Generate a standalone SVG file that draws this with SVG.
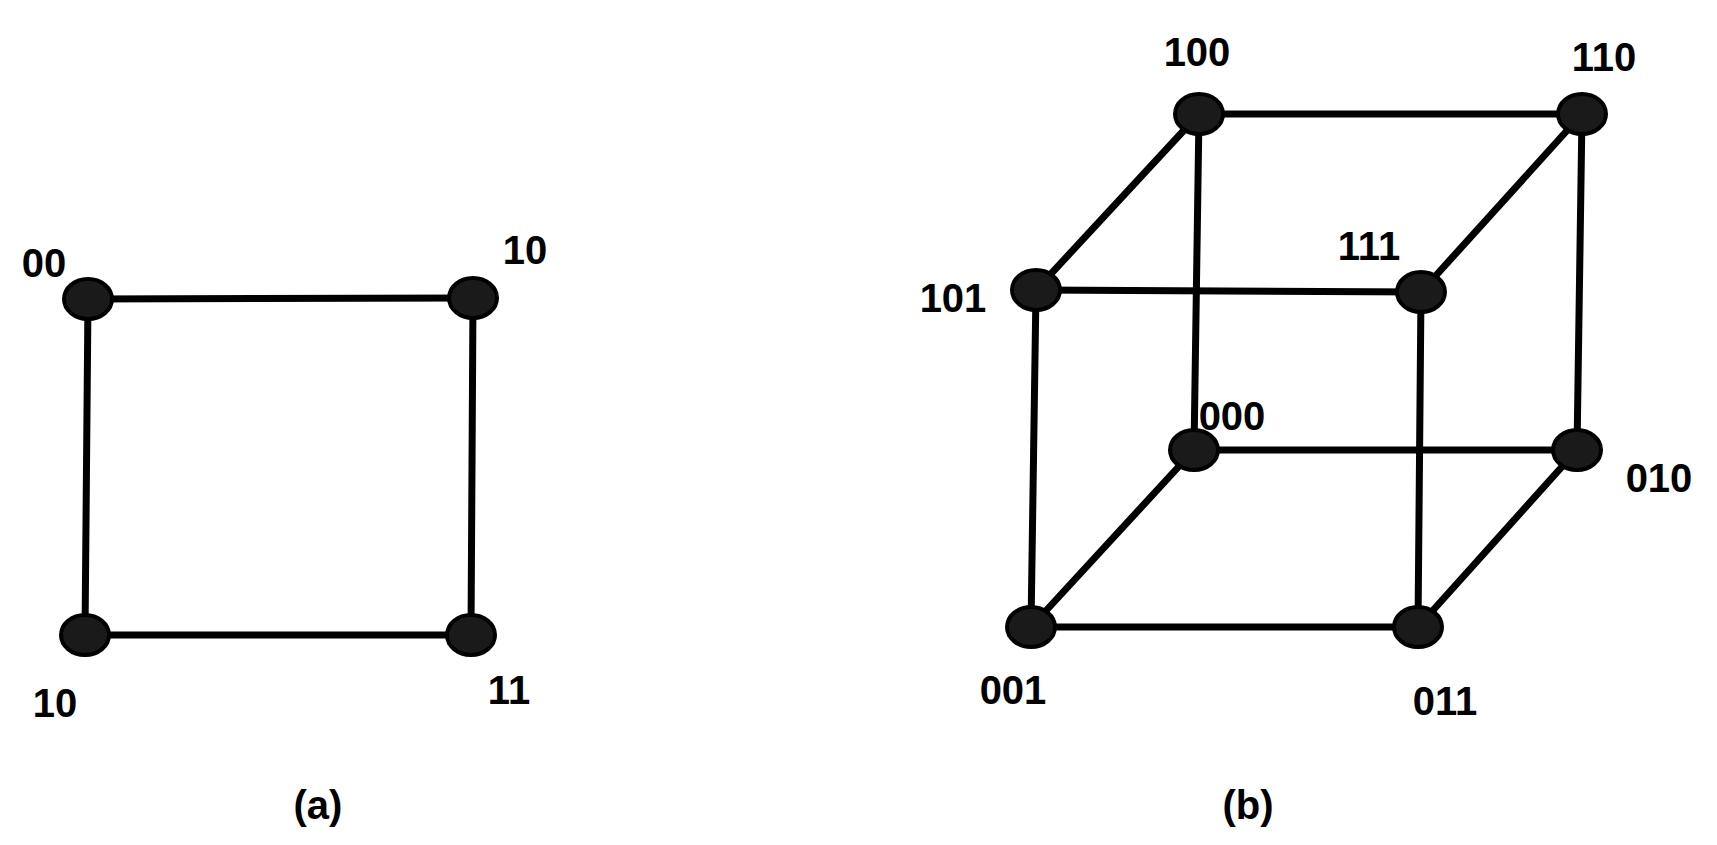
<svg xmlns="http://www.w3.org/2000/svg" width="1717" height="845" viewBox="0 0 1717 845">
<style>
.e{stroke:#000;stroke-width:7;fill:none;stroke-linecap:round}
.n{fill:#1a1a1a;stroke:#000;stroke-width:4}
text{font-family:"Liberation Sans",Arial,sans-serif;font-weight:bold;font-size:40px;fill:#000;text-anchor:middle;dominant-baseline:central}
</style>
<rect width="1717" height="845" fill="#fff"/>
<g id="connectors">
<line class="e" x1="88" y1="299" x2="473" y2="298"/>
<line class="e" x1="85" y1="635" x2="471" y2="635"/>
<line class="e" x1="88" y1="299" x2="85" y2="635"/>
<line class="e" x1="473" y1="298" x2="471" y2="635"/>
<line class="e" x1="1199" y1="114" x2="1582" y2="114"/>
<line class="e" x1="1036" y1="290" x2="1421" y2="292"/>
<line class="e" x1="1194" y1="450" x2="1577" y2="450"/>
<line class="e" x1="1031" y1="627" x2="1418" y2="627"/>
<line class="e" x1="1199" y1="114" x2="1036" y2="290"/>
<line class="e" x1="1582" y1="114" x2="1421" y2="292"/>
<line class="e" x1="1194" y1="450" x2="1031" y2="627"/>
<line class="e" x1="1577" y1="450" x2="1418" y2="627"/>
<line class="e" x1="1199" y1="114" x2="1194" y2="450"/>
<line class="e" x1="1582" y1="114" x2="1577" y2="450"/>
<line class="e" x1="1036" y1="290" x2="1031" y2="627"/>
<line class="e" x1="1421" y1="292" x2="1418" y2="627"/>
</g>
<g id="a00"><ellipse class="n" cx="88" cy="299" rx="24" ry="20"/><text x="44" y="263">00</text></g>
<g id="a10t"><ellipse class="n" cx="473" cy="298" rx="24" ry="20"/><text x="525" y="250">10</text></g>
<g id="a10b"><ellipse class="n" cx="85" cy="635" rx="24" ry="20"/><text x="55" y="703">10</text></g>
<g id="a11"><ellipse class="n" cx="471" cy="635" rx="24" ry="20"/><text x="509" y="690">11</text></g>
<g id="b100"><ellipse class="n" cx="1199" cy="114" rx="24" ry="20"/><text x="1197" y="52">100</text></g>
<g id="b110"><ellipse class="n" cx="1582" cy="114" rx="24" ry="20"/><text x="1604" y="57">110</text></g>
<g id="b101"><ellipse class="n" cx="1036" cy="290" rx="24" ry="20"/><text x="953" y="298">101</text></g>
<g id="b111"><ellipse class="n" cx="1421" cy="292" rx="24" ry="20"/><text x="1369" y="246">111</text></g>
<g id="b000"><ellipse class="n" cx="1194" cy="450" rx="24" ry="20"/><text x="1232" y="416">000</text></g>
<g id="b010"><ellipse class="n" cx="1577" cy="450" rx="24" ry="20"/><text x="1659" y="478">010</text></g>
<g id="b001"><ellipse class="n" cx="1031" cy="627" rx="24" ry="20"/><text x="1013" y="690">001</text></g>
<g id="b011"><ellipse class="n" cx="1418" cy="627" rx="24" ry="20"/><text x="1445" y="701">011</text></g>
<text x="318" y="805">(a)</text>
<text x="1248" y="805">(b)</text>
</svg>
